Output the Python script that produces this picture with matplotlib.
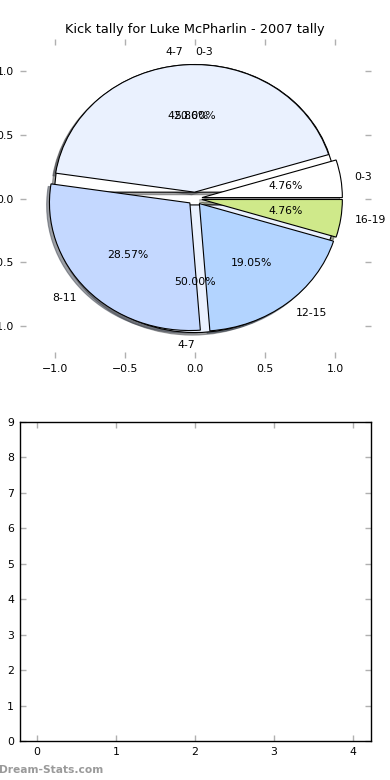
import matplotlib
matplotlib.use("Agg")
import matplotlib.pyplot as plt
import numpy as np

# Data
labels_main = ["0-3", "4-7", "8-11", "12-15", "16-19"]
values_main = [1, 9, 6, 4, 1]
labels_back = ["0-3", "4-7"]
values_back = [1, 1]
colors_by_label = {"0-3": "#ffffff", "4-7": "#eaf1fe", "8-11": "#c4d8ff",
                   "12-15": "#b3d4ff", "16-19": "#cfe98a"}
title = "Kick tally for Luke McPharlin - 2007 tally"
bar_xticks = [0, 1, 2, 3, 4]
bar_yticks = list(range(10))

plt.rcParams['font.family'] = ['DejaVu Sans']
plt.rcParams['font.size'] = 7.8

DPI = 100
fig = plt.figure(figsize=(3.9, 7.8), dpi=DPI)
fig.subplots_adjust(left=0.05, right=0.95, bottom=0.05, top=0.95, hspace=0.2)

ax1 = fig.add_subplot(2, 1, 1)
wp = dict(edgecolor="black", linewidth=0.8)
shadow_opts = {'ox': -0.02 * 72 / DPI, 'oy': -0.02 * 72 / DPI}
w_b, t_b, a_b = ax1.pie(values_back, labels=labels_back, autopct="%.2f%%",
                        colors=[colors_by_label[l] for l in labels_back],
                        explode=[0.05] * len(values_back), shadow=shadow_opts,
                        wedgeprops=wp, frame=True)
# old-style label alignment: tiny positive cos -> left, tiny negative -> right
cum = np.cumsum([0] + values_back) / sum(values_back)
for i, t in enumerate(t_b):
    thetam = np.pi * (cum[i] + cum[i + 1])
    t.set_ha('left' if np.cos(thetam) > 0 else 'right')
ax1.pie(values_main, labels=labels_main, autopct="%.2f%%",
        colors=[colors_by_label[l] for l in labels_main],
        explode=[0.05] * len(values_main), shadow=shadow_opts,
        wedgeprops=wp, frame=True)
ax1.set_aspect("auto")
ax1.set_xlim(-1.25, 1.25)
ax1.set_ylim(-1.25, 1.25)
ax1.set_xticks([-1.0, -0.5, 0.0, 0.5, 1.0])
ax1.set_yticks([-1.0, -0.5, 0.0, 0.5, 1.0])
for s in ax1.spines.values():
    s.set_visible(False)
ax1.tick_params(color="#b0b0b0", direction="in", length=4, width=1,
                top=True, right=True, pad=4)
ax1.set_title(title, fontsize=9.3, pad=4)

ax2 = fig.add_subplot(2, 1, 2)
ax2.set_xlim(-0.22, 4.22)
ax2.set_ylim(0, 9)
ax2.set_xticks(bar_xticks)
ax2.set_yticks(bar_yticks)
ax2.tick_params(color="#b0b0b0", direction="in", length=4, width=1,
                top=True, right=True, pad=4)
for s in ax2.spines.values():
    s.set_linewidth(1.0)

fig.text(-0.002, 10 / 780, "Dream-Stats.com", color="#9a9a9a", fontsize=7.7,
         fontweight="bold", ha="left", va="center")

fig.savefig("out.png", dpi=DPI)
